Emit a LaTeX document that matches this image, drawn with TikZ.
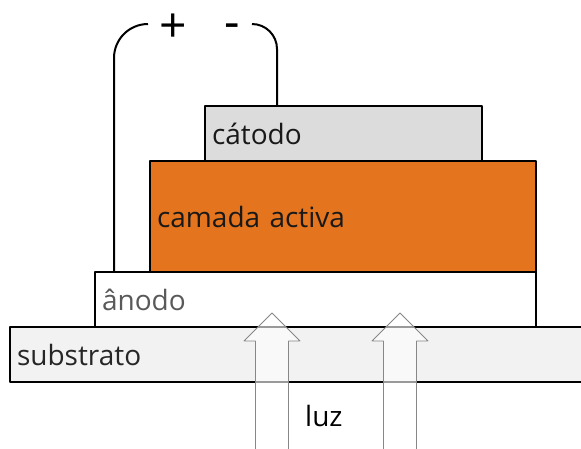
\documentclass[tikz,border=0pt]{standalone}
\usepackage{fontspec}
\setmainfont{Open Sans}
\usetikzlibrary{positioning}
\definecolor{activa}{RGB}{228,116,30}
\definecolor{catodofill}{RGB}{220,220,220}
\definecolor{substratofill}{RGB}{242,242,242}
\definecolor{luzline}{RGB}{135,135,135}
\tikzset{
  layer/.style={draw=black,line width=2pt,anchor=north west,align=left,inner xsep=7pt,inner ysep=0pt,
    outer sep=0pt,minimum height=55pt,font=\fontsize{28}{30}\selectfont},
  wire/.style={line width=2pt,rounded corners=#1},
  luz/.style={draw=luzline,line width=.8pt,fill=white,fill opacity=.6},
  sign/.style={anchor=base,inner sep=0pt,font=\fontsize{48}{50}\selectfont}
}
\begin{document}
\begin{tikzpicture}[x=1pt,y=-1pt,line join=round]
\useasboundingbox (0,0) rectangle (581,448);
\node[layer,fill=substratofill,text width=576pt,text=black!85] (substrato) at (10,327) {substrato};
\node[layer,fill=white,text width=427pt,text=black!65] (anodo) at (95,272) {ânodo};
\node[layer,fill=activa,minimum height=111pt,text width=372pt,text=black!90] (activa) at (150,161) {camada activa};
\node[layer,fill=catodofill,text width=263pt,text=black!90] (catodo) at (205,106) {cátodo};
\coordinate (pos) at (148,24);
\coordinate (neg) at (252,24);
\draw[wire=34pt] ([xshift=19pt]anodo.north west) |- (pos);
\draw[wire=25pt] (neg) -| ([xshift=72pt]catodo.north west);
\node[sign] (plus) at (173,42) {+};
\node[sign] (minus) at (232,38) {-};
\foreach \x in {272,400}
  \path[luz] (\x-16.5,450) -- (\x-16.5,341) -- (\x-28,341) -- (\x,313) -- (\x+28,341) -- (\x+16.5,341) -- (\x+16.5,450);
\node[anchor=base west,inner sep=0pt,font=\fontsize{28}{30}\selectfont] (luz) at (305,426) {luz};
\end{tikzpicture}
\end{document}
